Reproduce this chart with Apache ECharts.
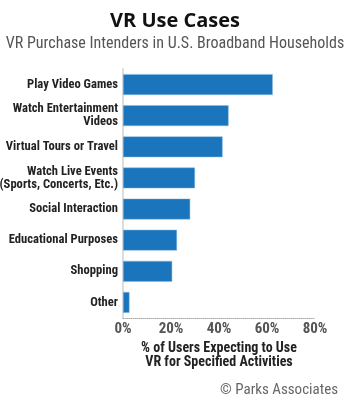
<!DOCTYPE html>
<html><head><meta charset="utf-8">
<script src="https://cdn.jsdelivr.net/npm/echarts@6/dist/echarts.min.js"></script>
<style>html,body{margin:0;padding:0;background:#fff}#c{width:350px;height:400px}</style>
</head><body><div id="c"></div>
<script>
const categories = ["Play Video Games","Watch Entertainment\nVideos","Virtual Tours or Travel","Watch Live Events\n(Sports, Concerts, Etc.)","Social Interaction","Educational Purposes","Shopping","Other"];
const values = [62.4, 44, 41.5, 30, 28, 22.5, 20.5, 2.7];
const tickMax = 80;
const tickInterval = 20;
const titleText = "VR Use Cases";
const subtitleText = "VR Purchase Intenders in U.S. Broadband Households";
const axisTitle = "% of Users Expecting to Use\nVR for Specified Activities";
const credit = "\u00A9 Parks Associates";

const F = "'Liberation Sans Narrow', 'Roboto Condensed', Arial, sans-serif";
const chart = echarts.init(document.getElementById('c'), null, {renderer:'canvas'});
chart.setOption({
  animation:false,
  title:[
    {text:titleText, left:'center', top:6, textStyle:{fontFamily:"'Open Sans', sans-serif", fontWeight:'bold', fontSize:20, color:'#111'}},
    {text:subtitleText, left:'center', top:31, textStyle:{fontFamily:F, fontWeight:'normal', fontSize:16, color:'#555'}},
    {text:credit, right:7, top:378, textStyle:{fontFamily:F, fontWeight:'normal', fontSize:15, color:'#666'}}
  ],
  grid:{left:123, right:35, top:69, bottom:82, containLabel:false, outerBoundsMode:'none'},
  xAxis:{
    type:'value', min:0, max:tickMax, interval:tickInterval,
    axisLine:{show:true, lineStyle:{color:'#aaa', type:'dotted', width:1}},
    axisTick:{show:false}, splitLine:{show:false},
    axisLabel:{formatter:'{value}%', fontFamily:F, fontWeight:'bold', fontSize:15, color:'#555', margin:4},
    name:axisTitle, nameLocation:'middle', nameGap:20,
    nameTextStyle:{fontFamily:F, fontWeight:'bold', fontSize:14, color:'#222', lineHeight:14}
  },
  yAxis:{
    type:'category', data:categories, inverse:true,
    axisLine:{show:true, lineStyle:{color:'#ddd', width:2}},
    axisTick:{show:false},
    axisLabel:{fontFamily:F, fontWeight:'bold', fontSize:12.6, color:'#222', margin:5, lineHeight:13, align:'right'}
  },
  series:[{
    type:'bar', data:values, barCategoryGap:'33%',
    itemStyle:{color:'#1a75bc', borderColor:'#8fbde3', borderWidth:0.5}
  }]
});
</script></body></html>
